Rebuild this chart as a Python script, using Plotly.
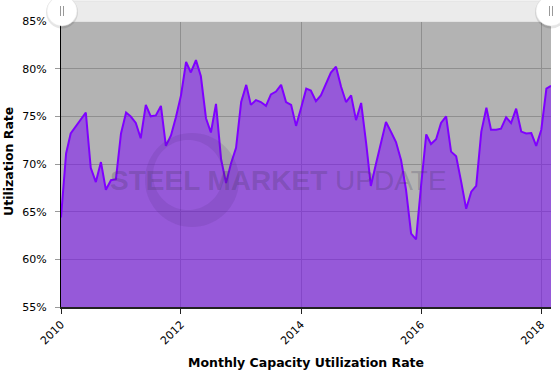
import numpy as np
import pandas as pd
import plotly.graph_objects as go

start_month = "2010-01-01"
utilization = [
    64.4, 71.1, 73.2, 73.9, 74.6, 75.4, 69.6, 68.1, 70.2, 67.3, 68.3, 68.4,
    73.2, 75.4, 75.0, 74.3, 72.7, 76.2, 75.0, 75.1, 76.1, 71.9, 73.0, 74.9,
    77.2, 80.7, 79.6, 80.9, 79.2, 74.8, 73.3, 76.3, 70.5, 68.0, 70.1, 71.7,
    76.5, 78.3, 76.2, 76.7, 76.5, 76.1, 77.3, 77.6, 78.3, 76.5, 76.2, 74.0,
    75.9, 77.9, 77.7, 76.6, 77.2, 78.5, 79.6, 80.2, 78.1, 76.5, 77.2, 74.6,
    76.4, 72.1, 67.7, 70.0, 72.2, 74.4, 73.4, 72.3, 70.4, 67.3, 62.7, 62.1,
    67.8, 73.1, 72.1, 72.6, 74.3, 75.0, 71.3, 70.8, 68.1, 65.3, 67.1, 67.7,
    73.4, 75.9, 73.6, 73.6, 73.7, 74.9, 74.3, 75.8, 73.4, 73.2, 73.25, 71.9,
    73.6, 77.9, 78.2,
]
months = pd.date_range(start_month, periods=len(utilization), freq="MS")
year_ticks = ["2010-01-01", "2012-01-01", "2014-01-01", "2016-01-01", "2018-01-01"]
year_labels = ["2010", "2012", "2014", "2016", "2018"]
y_ticks = [55, 60, 65, 70, 75, 80, 85]
y_labels = [f"{v}%" for v in y_ticks]

W, H = 560, 372
L, R, T, B = 61, 9, 21, 65
PW, PH = W - L - R, H - T - B

def px_x(x):
    return (x - L) / PW

def px_y(y):
    return (H - B - y) / PH

fig = go.Figure()
fig.add_trace(go.Scatter(
    x=months, y=utilization, mode="lines",
    line=dict(color="#7f00ff", width=2),
    fill="tozeroy", fillcolor="rgba(122,0,255,0.5)",
    hoverinfo="skip", cliponaxis=True,
))

shapes = []
# navigator bar on top
shapes.append(dict(type="rect", xref="paper", yref="paper",
                   x0=px_x(60), x1=px_x(553), y0=px_y(21.5), y1=px_y(1),
                   fillcolor="#ebebeb", line=dict(color="#e2e2e2", width=1), layer="above"))
for hx in (62, 551):
    ax, ay = px_x(hx), px_y(11)
    shapes.append(dict(type="circle", xref="paper", yref="paper",
                       xsizemode="pixel", ysizemode="pixel", xanchor=ax, yanchor=ay,
                       x0=-16, x1=16, y0=-17.5, y1=15,
                       fillcolor="rgba(0,0,0,0.10)", line=dict(width=0), layer="above"))
    shapes.append(dict(type="circle", xref="paper", yref="paper",
                       xsizemode="pixel", ysizemode="pixel", xanchor=ax, yanchor=ay,
                       x0=-15, x1=15, y0=-15, y1=15,
                       fillcolor="#ffffff", line=dict(color="#e6e6e6", width=0.5), layer="above"))
    for dx in (-1.5, 1.5):
        shapes.append(dict(type="line", xref="paper", yref="paper",
                           xsizemode="pixel", ysizemode="pixel", xanchor=ax, yanchor=ay,
                           x0=dx, x1=dx, y0=-5, y1=5,
                           line=dict(color="#999999", width=1), layer="above"))

# watermark logo ring (crescent-like, thicker at bottom-right)
th = np.linspace(0, 2 * np.pi, 73)
outer = [(47 * np.cos(t), 47 * np.sin(t)) for t in th]
inner = [(-4 + 35 * np.cos(t), 5 + 35 * np.sin(t)) for t in th[::-1]]
path = "M " + " L ".join(f"{x:.1f},{y:.1f}" for x, y in outer) + " Z M " + \
       " L ".join(f"{x:.1f},{y:.1f}" for x, y in inner) + " Z"
shapes.append(dict(type="path", xref="paper", yref="paper",
                   xsizemode="pixel", ysizemode="pixel",
                   xanchor=px_x(192), yanchor=px_y(180), path=path,
                   fillcolor="rgba(70,40,110,0.13)", line=dict(width=0), layer="above"))

annotations = [
    dict(text="<b>STEEL MARKET</b> UPDATE", xref="paper", yref="paper",
         x=px_x(278), y=px_y(180), showarrow=False, xanchor="center", yanchor="middle",
         font=dict(family="Liberation Sans, Arial", size=28, color="rgba(60,50,80,0.24)")),
    dict(text="<b>Monthly Capacity Utilization Rate</b>", xref="paper", yref="paper",
         x=0.5, y=px_y(362), showarrow=False, xanchor="center", yanchor="middle",
         font=dict(family="DejaVu Sans", size=12.5, color="#000000")),
    dict(text="<b>Utilization Rate</b>", xref="paper", yref="paper",
         x=px_x(8), y=px_y(162), showarrow=False, xanchor="center", yanchor="middle",
         textangle=-90,
         font=dict(family="DejaVu Sans", size=12.5, color="#000000")),
]

fig.update_layout(
    width=W, height=H,
    margin=dict(l=L, r=R, t=T, b=B, pad=0, autoexpand=False),
    paper_bgcolor="#ffffff", plot_bgcolor="#b3b3b3",
    showlegend=False,
    font=dict(family="DejaVu Sans", size=11, color="#000000"),
    shapes=shapes, annotations=annotations,
    xaxis=dict(
        type="date", range=[months[0], months[-1]],
        tickvals=year_ticks, ticktext=year_labels, tickangle=-45,
        showgrid=True, gridcolor="#8f8f8f", gridwidth=1,
        showline=True, linecolor="#222222", linewidth=1.5,
        ticks="outside", ticklen=5, tickcolor="#222222",
        zeroline=False, fixedrange=True, automargin=False,
    ),
    yaxis=dict(
        range=[55, 85], tickvals=y_ticks, ticktext=y_labels,
        showgrid=True, gridcolor="#8f8f8f", gridwidth=1,
        showline=True, linecolor="#000000", linewidth=1,
        ticks="outside", ticklen=5, tickcolor="#999999",
        ticklabelstandoff=6,
        zeroline=False, fixedrange=True, automargin=False,
    ),
)

fig.write_html(
    "out.html",
    config={"displayModeBar": False},
    post_script="document.body.style.margin='0';document.body.style.overflow='hidden';",
)
